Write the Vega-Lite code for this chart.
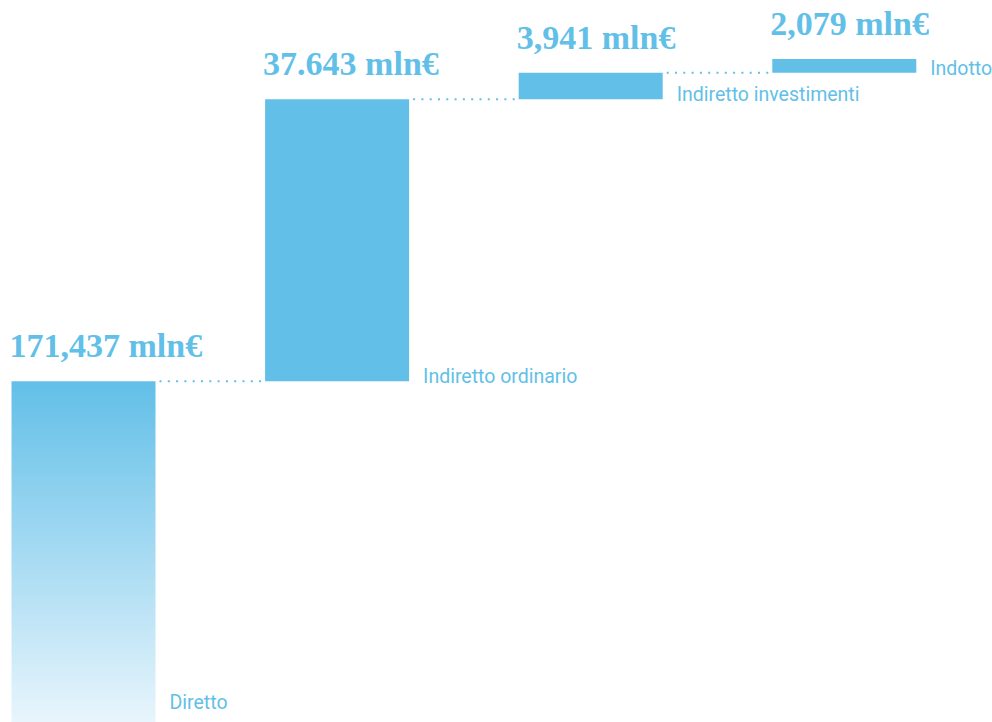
{
  "$schema": "https://vega.github.io/schema/vega-lite/v6.json",
  "width": 992,
  "height": 722,
  "padding": 0,
  "autosize": {"type": "none"},
  "background": "white",
  "config": {"view": {"stroke": null}},
  "data": {
    "values": [
      {"cat": "Diretto", "start": 0, "end": 171.437, "label": "171,437 mln€", "next": "Indiretto ordinario"},
      {"cat": "Indiretto ordinario", "start": 171.437, "end": 209.08, "label": "37.643 mln€", "next": "Indiretto investimenti"},
      {"cat": "Indiretto investimenti", "start": 209.08, "end": 213.021, "label": "3,941 mln€", "next": "Indotto"},
      {"cat": "Indotto", "start": 213.021, "end": 215.1, "label": "2,079 mln€", "next": null}
    ]
  },
  "encoding": {
    "x": {
      "field": "cat",
      "type": "nominal",
      "sort": null,
      "axis": null,
      "scale": {
        "domain": ["Diretto", "Indiretto ordinario", "Indiretto investimenti", "Indotto"],
        "paddingInner": 0.4322,
        "paddingOuter": 0.172,
        "align": 0.132
      }
    }
  },
  "resolve": {"scale": {"x": "shared", "y": "shared"}},
  "layer": [
    {
      "transform": [{"filter": "datum.next != null"}],
      "mark": {"type": "rule", "color": "#62bfe8", "strokeWidth": 2, "strokeDash": [2, 6.3], "strokeDashOffset": -4, "invalid": null},
      "encoding": {
        "x": {"field": "cat", "type": "nominal", "sort": null, "bandPosition": 1},
        "x2": {"field": "next", "bandPosition": 0},
        "y": {
          "field": "end",
          "type": "quantitative",
          "axis": null,
          "scale": {"type": "log", "domain": [134.9, 224.2], "nice": false, "zero": false, "clamp": true}
        }
      }
    },
    {
      "transform": [{"filter": "datum.cat === 'Diretto'"}],
      "mark": {
        "type": "bar",
        "invalid": null,
        "color": {
          "gradient": "linear",
          "x1": 0, "y1": 0, "x2": 0, "y2": 1,
          "stops": [
            {"offset": 0, "color": "#62bfe8"},
            {"offset": 1, "color": "#e8f5fc"}
          ]
        }
      },
      "encoding": {
        "y": {"field": "end", "type": "quantitative"},
        "y2": {"field": "start"}
      }
    },
    {
      "transform": [{"filter": "datum.cat !== 'Diretto'"}],
      "mark": {"type": "bar", "color": "#62bfe8", "invalid": null},
      "encoding": {
        "y": {"field": "end", "type": "quantitative"},
        "y2": {"field": "start"}
      }
    },
    {
      "mark": {
        "type": "text",
        "align": "left",
        "baseline": "alphabetic",
        "dx": -2,
        "dy": -24,
        "font": "Liberation Serif",
        "fontWeight": "bold",
        "fontSize": 34,
        "color": "#62bfe8",
        "invalid": null
      },
      "encoding": {
        "x": {"field": "cat", "type": "nominal", "sort": null, "bandPosition": 0},
        "y": {"field": "end", "type": "quantitative"},
        "text": {"field": "label"}
      }
    },
    {
      "transform": [{"filter": "datum.cat !== 'Diretto'"}],
      "mark": {
        "type": "text",
        "align": "left",
        "baseline": "alphabetic",
        "dx": 14,
        "dy": 2,
        "font": "Roboto",
        "fontSize": 19.5,
        "color": "#62bfe8",
        "invalid": null
      },
      "encoding": {
        "x": {"field": "cat", "type": "nominal", "sort": null, "bandPosition": 1},
        "y": {"field": "start", "type": "quantitative"},
        "text": {"field": "cat"}
      }
    },
    {
      "transform": [{"filter": "datum.cat === 'Diretto'"}],
      "mark": {
        "type": "text",
        "align": "left",
        "baseline": "alphabetic",
        "dx": 14,
        "dy": -13,
        "font": "Roboto",
        "fontSize": 19.5,
        "color": "#62bfe8",
        "invalid": null
      },
      "encoding": {
        "x": {"field": "cat", "type": "nominal", "sort": null, "bandPosition": 1},
        "y": {"field": "start", "type": "quantitative"},
        "text": {"field": "cat"}
      }
    }
  ]
}
